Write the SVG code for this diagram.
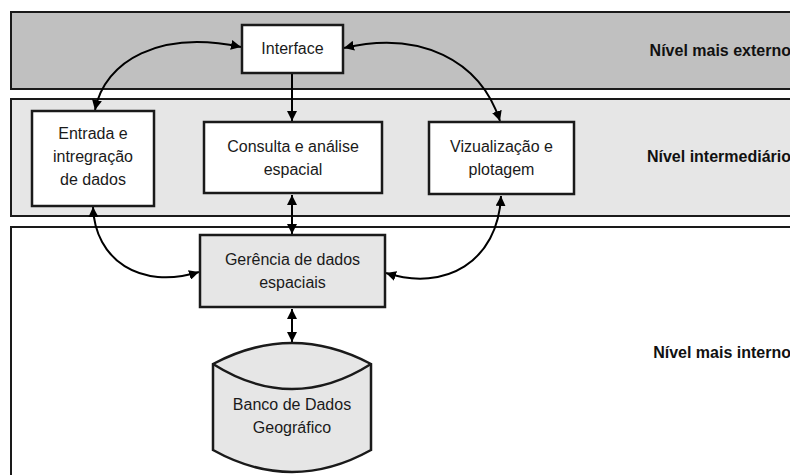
<svg xmlns="http://www.w3.org/2000/svg" width="790" height="475" viewBox="0 0 790 475">
  <style>
    .band { stroke: #1a1a1a; stroke-width: 2; }
    .box { fill: #ffffff; stroke: #1a1a1a; stroke-width: 2.5; }
    .box-gray { fill: #e6e6e6; stroke: #1a1a1a; stroke-width: 2.5; }
    .txt { font-family: "Liberation Sans", Arial, sans-serif; font-size: 16px; fill: #1a1a1a; text-anchor: middle; }
    .lvl { font-family: "Liberation Sans", Arial, sans-serif; font-size: 16px; font-weight: bold; fill: #111111; text-anchor: end; }
    .conn { fill: none; stroke: #000000; stroke-width: 2; }
  </style>
  <defs>
    <marker id="arrow" viewBox="0 0 10 10" refX="10" refY="5" markerWidth="10" markerHeight="10" markerUnits="userSpaceOnUse" orient="auto-start-reverse">
      <path d="M0,0 L10,5 L0,10 z" fill="#000000"/>
    </marker>
  </defs>

  <rect width="790" height="475" fill="#ffffff"/>

  <!-- level bands -->
  <g id="level-outer">
    <rect class="band" x="11" y="12" width="800" height="77" fill="#c0c0c0"/>
    <text class="lvl" x="791" y="56">Nível mais externo</text>
  </g>
  <g id="level-middle">
    <rect class="band" x="11" y="99" width="800" height="117" fill="#e6e6e6"/>
    <text class="lvl" x="791" y="162">Nível intermediário</text>
  </g>
  <g id="level-inner">
    <rect class="band" x="11" y="227" width="800" height="260" fill="#ffffff"/>
    <text class="lvl" x="791" y="358">Nível mais interno</text>
  </g>

  <!-- connectors -->
  <g id="connectors">
    <path class="conn" d="M95,110 C105,60 160,30 241,47" marker-start="url(#arrow)" marker-end="url(#arrow)"/>
    <path class="conn" d="M344,48 C420,30 480,60 500,121" marker-start="url(#arrow)" marker-end="url(#arrow)"/>
    <path class="conn" d="M292,74 L292,121" marker-end="url(#arrow)"/>
    <path class="conn" d="M292,195 L292,234" marker-start="url(#arrow)" marker-end="url(#arrow)"/>
    <path class="conn" d="M93,207 C95,260 140,290 199,272" marker-start="url(#arrow)" marker-end="url(#arrow)"/>
    <path class="conn" d="M501,196 C498,262 445,292 386,273" marker-start="url(#arrow)" marker-end="url(#arrow)"/>
    <path class="conn" d="M292,309 L292,342" marker-start="url(#arrow)" marker-end="url(#arrow)"/>
  </g>

  <!-- nodes -->
  <g id="interface">
    <rect class="box" x="242" y="25" width="101" height="48"/>
    <text class="txt" x="292.5" y="54">Interface</text>
  </g>
  <g id="entrada">
    <rect class="box" x="32" y="111" width="122" height="95"/>
    <text class="txt" x="93" y="139">Entrada e</text>
    <text class="txt" x="93" y="162">intregração</text>
    <text class="txt" x="93" y="185">de dados</text>
  </g>
  <g id="consulta">
    <rect class="box" x="204" y="122" width="178" height="71"/>
    <text class="txt" x="293" y="152">Consulta e análise</text>
    <text class="txt" x="293" y="175">espacial</text>
  </g>
  <g id="vizualizacao">
    <rect class="box" x="429" y="122" width="145" height="72"/>
    <text class="txt" x="501.5" y="152">Vizualização e</text>
    <text class="txt" x="501.5" y="175">plotagem</text>
  </g>
  <g id="gerencia">
    <rect class="box-gray" x="200" y="235" width="185" height="72"/>
    <text class="txt" x="292.5" y="265">Gerência de dados</text>
    <text class="txt" x="292.5" y="288">espaciais</text>
  </g>
  <g id="banco">
    <path class="box-gray" d="M213,364 Q292,322 371,364 L371,450 Q292,494 213,450 Z"/>
    <path fill="none" stroke="#1a1a1a" stroke-width="2.5" d="M213,364 Q292,414 371,364"/>
    <text class="txt" x="292" y="410">Banco de Dados</text>
    <text class="txt" x="292" y="433">Geográfico</text>
  </g>
</svg>
